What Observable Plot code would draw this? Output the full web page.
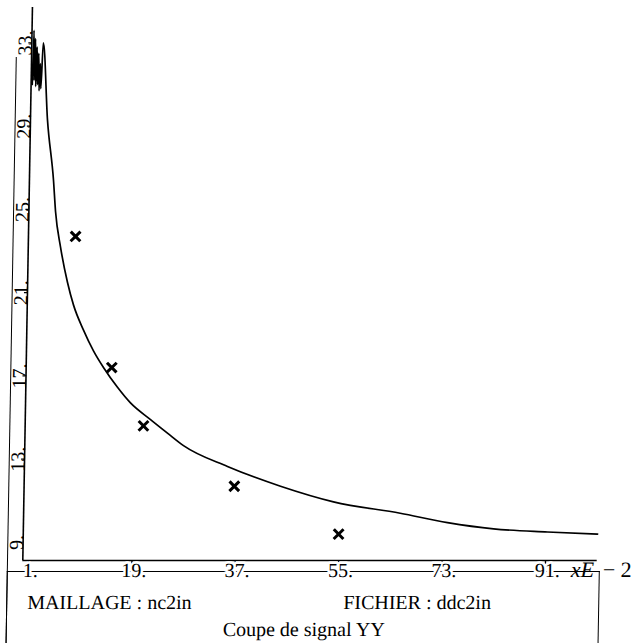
<!DOCTYPE html>
<html>
<head>
<meta charset="utf-8">
<script src="https://cdn.jsdelivr.net/npm/d3@7"></script>
<script src="https://cdn.jsdelivr.net/npm/@observablehq/plot@0.6"></script>
<style>
  html, body { margin: 0; padding: 0; background: white; }
  #fig { position: relative; width: 640px; height: 643px; overflow: hidden;
         transform: skewX(-1deg); transform-origin: 0 560px;
         font-family: "Liberation Serif", "DejaVu Serif", serif; color: black; }
  #plot { position: absolute; left: 0; top: 0; z-index: 2; }
  .abs { position: absolute; white-space: nowrap; line-height: 20px; font-size: 20px; }
  #leftline { position: absolute; left: 7px; top: 57px; height: 600px; border-left: 1.6px solid black; }
  #box { position: absolute; left: 7px; top: 571px; width: 591px; height: 90px;
         border-top: 1.6px solid black; border-left: 1.6px solid black; border-right: 1.6px solid black; z-index: 1; }
</style>
</head>
<body>
<div id="fig">
  <div id="leftline"></div>
  <div id="box"></div>
  <div id="plot"></div>
  <div class="abs" style="left:571px; top:559px; font-size:22px; line-height:22px; z-index:3;"><i>xE</i></div>
  <div class="abs" style="left:603px; top:559px; font-size:22px; line-height:22px; z-index:3;">− 2</div>
  <div class="abs" style="left:28px; top:592px;">MAILLAGE : nc2in</div>
  <div class="abs" style="left:344px; top:592px;">FICHIER : ddc2in</div>
  <div class="abs" style="left:0; width:610px; text-align:center; top:619px;">Coupe de signal YY</div>
</div>
<script>
// Measured curve (x in units of 1E-2)
const curveX = [0.2, 0.35, 0.5, 0.65, 0.8, 0.95, 1.1, 1.25, 1.4, 1.55, 1.7, 2.0, 2.96, 4.19, 4.64, 5.61, 6.93, 8.06, 9.87, 11.67, 13.46, 15.96, 18.27, 21.81, 24.8, 27.63, 35.35, 44.64, 53.91, 65.56, 73.82, 81.85, 91.26, 100];
const curveY = [31.0, 33.6, 31.2, 33.2, 30.9, 32.8, 31.0, 32.5, 30.7, 32.0, 30.8, 33.0, 29.3, 26.4, 24.9, 23.2, 21.5, 20.4, 19.2, 18.2, 17.4, 16.45, 15.7, 14.9, 14.25, 13.65, 12.65, 11.7, 10.95, 10.4, 9.95, 9.65, 9.5, 9.4];
// Measured points (crosses)
const markerX = [8.2, 14.9, 20.6, 36.6, 54.9];
const markerY = [23.7, 17.4, 14.6, 11.7, 9.4];
// Axis ticks
const xTicks = [1, 19, 37, 55, 73, 91];
const yTicks = [9, 13, 17, 21, 25, 29, 33];
const xDomain = [0, 100];
const yDomain = [8.13, 34.7];

const curve = curveX.map((x, i) => ({x, y: curveY[i]}));
const markers = markerX.map((x, i) => ({x, y: markerY[i]}));

const chart = Plot.plot({
  width: 640,
  height: 584,
  marginLeft: 22.3,
  marginRight: 43.3,
  marginTop: 7,
  marginBottom: 24,
  x: {domain: xDomain, label: null},
  y: {domain: yDomain, label: null},
  style: {fontFamily: "'Liberation Serif', serif", fontSize: "20px", background: "transparent", color: "black", overflow: "visible"},
  marks: [
    Plot.ruleY([yDomain[0]], {stroke: "black", strokeWidth: 1.6}),
    Plot.ruleX([xDomain[0]], {stroke: "black", strokeWidth: 1.6}),
    Plot.axisX({ticks: xTicks, tickSize: 4, tickFormat: () => "", label: null, strokeWidth: 1.4}),
    Plot.axisY({ticks: yTicks, tickSize: 3, tickFormat: () => "", label: null, strokeWidth: 1.4}),
    Plot.text(xTicks, {x: d => d, y: yDomain[0], text: d => d + ".", lineAnchor: "top", dy: 2, dx: 2,
      fontSize: 20, fill: "black", stroke: "white", strokeWidth: 5}),
    Plot.text(yTicks, {x: xDomain[0], y: d => d, text: d => d + ".", rotate: -90, textAnchor: "middle",
      lineAnchor: "bottom", dx: 0, fontSize: 20, fill: "black"}),
    Plot.line(curve, {x: "x", y: "y", stroke: "black", strokeWidth: 1.7, curve: "monotone-x"}),
    Plot.dot(markers, {x: "x", y: "y", symbol: "times", r: 4.5, stroke: "black", strokeWidth: 3})
  ]
});
document.getElementById("plot").appendChild(chart);
</script>
</body>
</html>
